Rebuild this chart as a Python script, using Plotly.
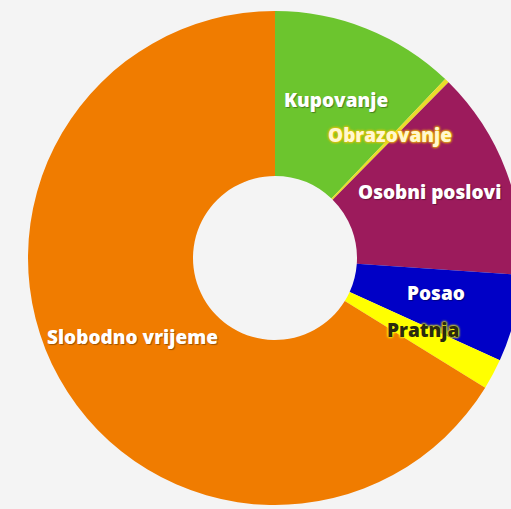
import plotly.graph_objects as go

categories = ["Kupovanje", "Obrazovanje", "Osobni poslovi", "Posao", "Pratnja", "Slobodno vrijeme"]
values = [12.1, 0.3, 13.7, 5.7, 2.0, 66.2]
colors = ["#6CC52E", "#E9DC2A", "#9C1B5C", "#0000C6", "#FFFF00", "#F07C00"]
# label centres (pixels from top-left of the picture)
label_px = [(336, 100), (390, 135), (429, 192), (436, 293), (423, 330), (132, 337)]
label_color = ["white", "#FFF8D0", "white", "white", "#2A2A10", "white"]
white_shadow = "1px 1px 1px rgba(0,0,0,0.35)"
label_shadow = [white_shadow,
                "0px 0px 3px #F2C200, 0px 0px 3px #F2C200, 0px 0px 2px #F2C200",
                white_shadow, white_shadow,
                "0px 0px 3px #FFFF00, 0px 0px 3px #FFFF00, 0px 0px 2px #FFFF00",
                white_shadow]

W, H = 540, 509
BG = "#F4F4F4"
FONT = "Open Sans"
FS = 19

fig = go.Figure(go.Pie(
    labels=categories,
    values=values,
    textinfo="none",
    sort=False,
    direction="clockwise",
    rotation=0,
    hole=0.332,
    marker=dict(colors=colors, line=dict(width=0)),
    domain=dict(x=[28 / W, 522 / W], y=[1 - 505 / H, 1 - 11 / H]),
    hoverinfo="label+percent",
))

for name, (px, py), col, sh in zip(categories, label_px, label_color, label_shadow):
    fig.add_annotation(x=px / W, y=1 - py / H, xref="paper", yref="paper",
                       xanchor="center", yanchor="middle",
                       text=name, showarrow=False,
                       font=dict(family=FONT, size=FS, color=col, weight=800, shadow=sh))

fig.update_layout(
    width=W, height=H,
    margin=dict(l=0, r=0, t=0, b=0),
    paper_bgcolor=BG, plot_bgcolor=BG,
    showlegend=False,
)

fig.write_html("out.html", config={"displayModeBar": False},
               post_script="document.body.style.margin='0';document.body.style.overflow='hidden';document.documentElement.style.overflow='hidden';document.body.style.background='#F4F4F4';")
